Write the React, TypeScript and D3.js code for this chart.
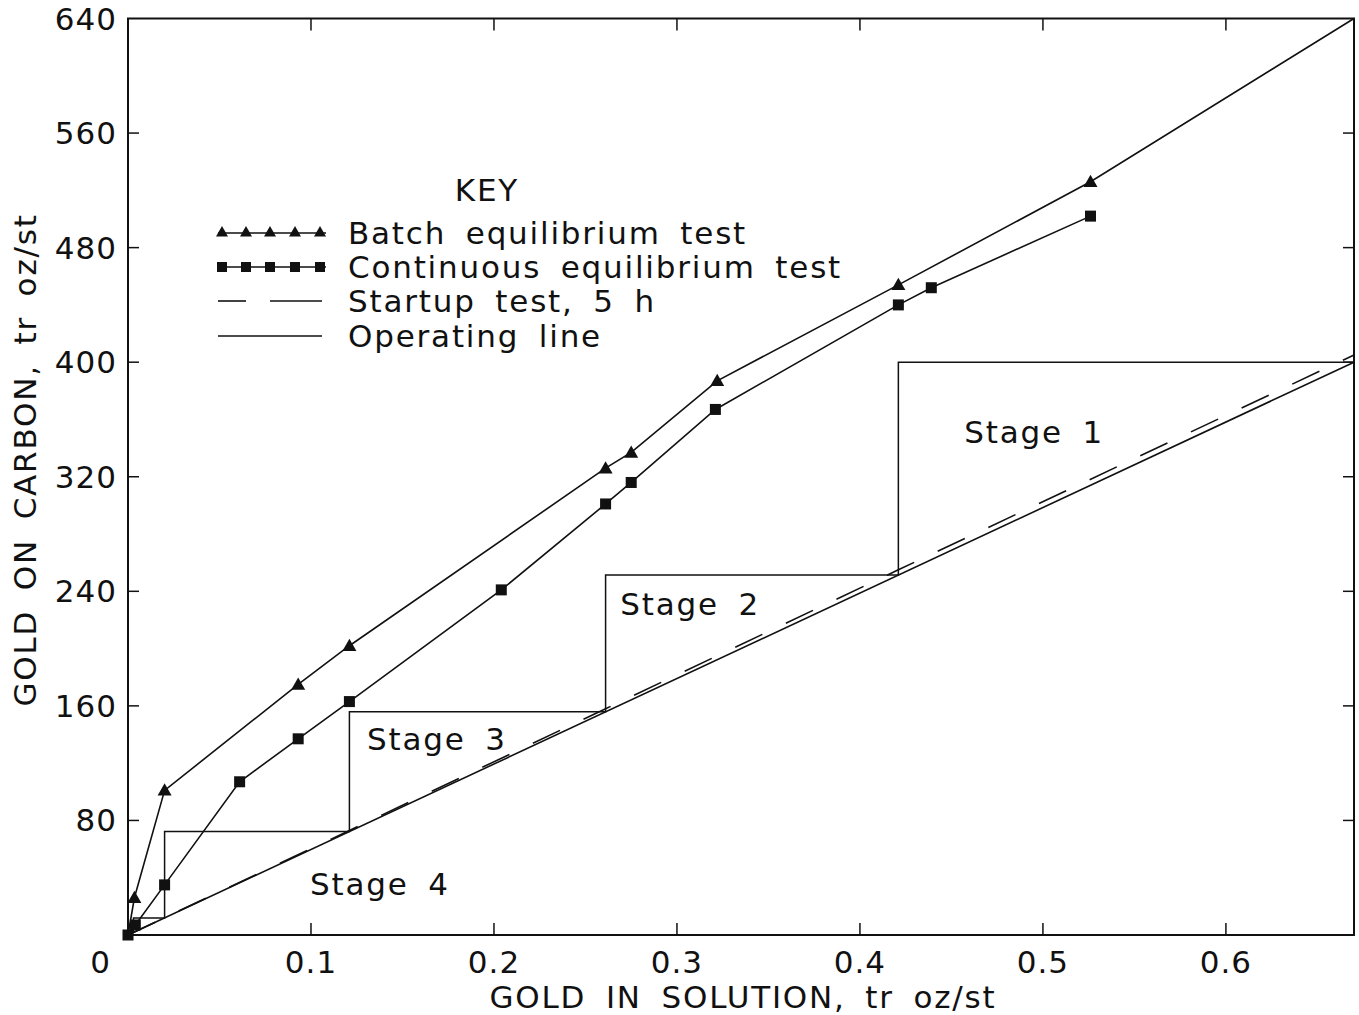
import React from "react";
import * as d3 from "d3";

// ---- data ----
const xTicks = [0.1, 0.2, 0.3, 0.4, 0.5, 0.6];
const yTicks = [80, 160, 240, 320, 400, 480, 560, 640];

const batchX = [0, 0.0035, 0.02, 0.093, 0.121, 0.261, 0.275, 0.322, 0.421, 0.526, 0.67];
const batchY = [0, 26, 101, 175, 202, 326, 337, 387, 454, 526, 640];
const batchMarked = [false, true, true, true, true, true, true, true, true, true, false];

const contX = [0, 0.004, 0.02, 0.061, 0.093, 0.121, 0.204, 0.261, 0.275, 0.321, 0.421, 0.439, 0.526];
const contY = [0, 7, 35, 107, 137, 163, 241, 301, 316, 367, 440, 452, 502];

const startupX = [0, 0.121, 0.261, 0.421, 0.67];
const startupY = [0, 73, 158, 255, 405];

const operatingX = [0, 0.67];
const operatingY = [0, 400];

const stageBounds = [0.67, 0.421, 0.261, 0.121, 0.02, 0.003];
const stageNames = ["Stage 1", "Stage 2", "Stage 3", "Stage 4"];
const stageLabelX = [0.457, 0.269, 0.1306, 0.0995];
const stageLabelY = [351, 231, 137, 35.5];

const legendLabels = [
  "Batch equilibrium test",
  "Continuous equilibrium test",
  "Startup test, 5 h",
  "Operating line",
];

const W = 1359;
const H = 1015;
const FONT = "'DejaVu Sans', sans-serif";

export default function App() {
  const x = d3.scaleLinear().domain([0, 0.67]).range([128, 1354]);
  const y = d3.scaleLinear().domain([0, 640]).range([935, 18.5]);
  const opSlope = operatingY[1] / operatingX[1];
  const op = (v: number) => v * opSlope;

  const line = d3
    .line<[number, number]>()
    .x((d) => x(d[0]))
    .y((d) => y(d[1]));

  const batchPts = batchX.map((v, i) => [v, batchY[i]] as [number, number]);
  const contPts = contX.map((v, i) => [v, contY[i]] as [number, number]);
  const startPts = startupX.map((v, i) => [v, startupY[i]] as [number, number]);
  const opPts = operatingX.map((v, i) => [v, operatingY[i]] as [number, number]);

  // staircase
  const steps: [number, number][] = [];
  for (let i = 0; i < stageBounds.length - 1; i++) {
    const a = stageBounds[i];
    const b = stageBounds[i + 1];
    steps.push([a, op(a)], [b, op(a)], [b, op(b)]);
  }

  const tri = (cx: number, cy: number, s = 7) =>
    `M${cx},${cy - s} L${cx + s},${cy + s * 0.75} L${cx - s},${cy + s * 0.75} Z`;

  const textStyle: React.CSSProperties = {
    fontFamily: FONT,
    fontSize: 31,
    fill: "#111",
  };
  const wideText: React.CSSProperties = {
    ...textStyle,
    letterSpacing: 1.8,
    wordSpacing: 8,
  };

  const x0 = x(0);
  const x1 = x(0.67);
  const y0 = y(0);
  const y1 = y(640);
  const stroke = "#111";

  const legendRowsY = [233, 267, 301, 336];
  const legendMarkX = [222, 246, 270, 295, 320];

  return (
    <svg
      width={W}
      height={H}
      style={{ position: "absolute", left: 0, top: 0, background: "#fff" }}
    >
      <rect x={0} y={0} width={W} height={H} fill="#fff" />
      {/* frame */}
      <rect x={x0} y={y1} width={x1 - x0} height={y0 - y1} fill="none" stroke={stroke} strokeWidth={2} />
      {/* x ticks bottom & top */}
      {xTicks.map((t) => (
        <g key={"xt" + t}>
          <line x1={x(t)} x2={x(t)} y1={y0} y2={y0 - 12} stroke={stroke} strokeWidth={1.5} />
          <line x1={x(t)} x2={x(t)} y1={y1} y2={y1 + 12} stroke={stroke} strokeWidth={1.5} />
          <text x={x(t)} y={962} textAnchor="middle" dominantBaseline="central" style={{ ...textStyle, letterSpacing: 1 }}>
            {String(t)}
          </text>
        </g>
      ))}
      <text x={100} y={962} textAnchor="middle" dominantBaseline="central" style={textStyle}>
        0
      </text>
      {/* y ticks left & right */}
      {yTicks.map((t) => (
        <g key={"yt" + t}>
          {t < 640 && (
            <>
              <line x1={x0} x2={x0 + 11} y1={y(t)} y2={y(t)} stroke={stroke} strokeWidth={1.5} />
              <line x1={x1} x2={x1 - 11} y1={y(t)} y2={y(t)} stroke={stroke} strokeWidth={1.5} />
            </>
          )}
          <text x={117} y={y(t)} textAnchor="end" dominantBaseline="central" style={{ ...textStyle, letterSpacing: 1 }}>
            {String(t)}
          </text>
        </g>
      ))}
      {/* axis titles */}
      <text x={743} y={997} textAnchor="middle" dominantBaseline="central" style={wideText}>
        GOLD IN SOLUTION, tr oz/st
      </text>
      <text
        transform={`translate(25,460) rotate(-90)`}
        textAnchor="middle"
        dominantBaseline="central"
        style={wideText}
      >
        GOLD ON CARBON, tr oz/st
      </text>

      {/* operating line */}
      <path d={line(opPts) || ""} fill="none" stroke={stroke} strokeWidth={1.6} />
      {/* startup dashed */}
      <path d={line(startPts) || ""} fill="none" stroke={stroke} strokeWidth={1.6} strokeDasharray="30 26" />
      {/* staircase */}
      <path d={line(steps) || ""} fill="none" stroke={stroke} strokeWidth={1.5} />
      {/* batch */}
      <path d={line(batchPts) || ""} fill="none" stroke={stroke} strokeWidth={1.6} />
      {batchPts.map((p, i) =>
        batchMarked[i] ? <path key={"b" + i} d={tri(x(p[0]), y(p[1]))} fill={stroke} /> : null
      )}
      {/* continuous */}
      <path d={line(contPts) || ""} fill="none" stroke={stroke} strokeWidth={1.6} />
      {contPts.map((p, i) => (
        <rect key={"c" + i} x={x(p[0]) - 5.5} y={y(p[1]) - 5.5} width={11} height={11} fill={stroke} />
      ))}

      {/* stage labels */}
      {stageNames.map((s, i) => (
        <text key={s} x={x(stageLabelX[i])} y={y(stageLabelY[i])} dominantBaseline="central" style={wideText}>
          {s}
        </text>
      ))}

      {/* legend */}
      <text x={487} y={190} textAnchor="middle" dominantBaseline="central" style={wideText}>
        KEY
      </text>
      <line x1={218} x2={326} y1={legendRowsY[0]} y2={legendRowsY[0]} stroke={stroke} strokeWidth={1.6} />
      {legendMarkX.map((mx) => (
        <path key={"lt" + mx} d={tri(mx, legendRowsY[0] - 1, 6)} fill={stroke} />
      ))}
      <line x1={218} x2={326} y1={legendRowsY[1]} y2={legendRowsY[1]} stroke={stroke} strokeWidth={1.6} />
      {legendMarkX.map((mx) => (
        <rect key={"lr" + mx} x={mx - 5} y={legendRowsY[1] - 5} width={10} height={10} fill={stroke} />
      ))}
      <line x1={218} x2={246} y1={legendRowsY[2]} y2={legendRowsY[2]} stroke={stroke} strokeWidth={1.6} />
      <line x1={270} x2={322} y1={legendRowsY[2]} y2={legendRowsY[2]} stroke={stroke} strokeWidth={1.6} />
      <line x1={218} x2={322} y1={legendRowsY[3]} y2={legendRowsY[3]} stroke={stroke} strokeWidth={1.6} />
      {legendLabels.map((l, i) => (
        <text key={l} x={348} y={legendRowsY[i]} dominantBaseline="central" style={wideText}>
          {l}
        </text>
      ))}
    </svg>
  );
}
